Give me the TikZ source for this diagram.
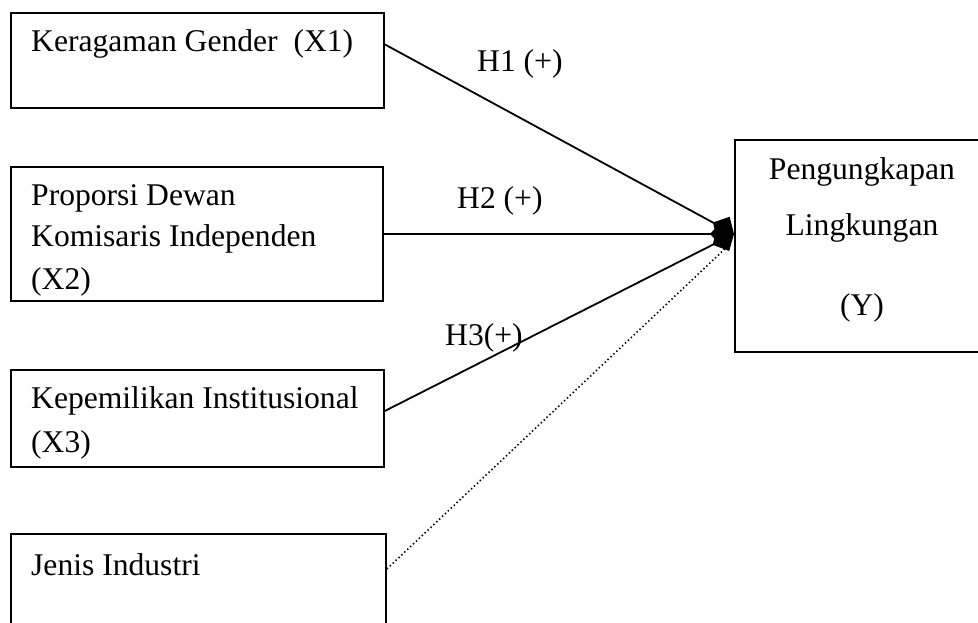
\documentclass[tikz,border=0pt]{standalone}
\usepackage{fontspec}
\setmainfont{Liberation Serif}
\usetikzlibrary{arrows.meta}
\begin{document}
\begin{tikzpicture}[x=1pt,y=-1pt,
  box/.style={draw,line width=1.9pt,inner sep=0pt,anchor=north west},
  lbl/.style={anchor=base west,inner sep=0pt,font=\fontsize{31.6}{42}\selectfont},
  clbl/.style={anchor=base,inner sep=0pt,font=\fontsize{31.6}{42}\selectfont},
  link/.style={line width=1.8pt,-{Diamond[length=24pt,width=26pt]}},
  dotlink/.style={line width=1.6pt,dash pattern=on 1.4pt off 2.6pt},
  ]
\useasboundingbox (0,0) rectangle (978,623);
\clip (0,0) rectangle (978,623);
% boxes
\node[box,minimum width=373pt,minimum height=95pt] (x1) at (10,12) {};
\node[box,minimum width=372pt,minimum height=134pt] (x2) at (10,166) {};
\node[box,minimum width=373pt,minimum height=97pt] (x3) at (10,369) {};
\node[box,minimum width=375pt,minimum height=110pt] (x4) at (10,533) {};
\node[box,minimum width=270pt,minimum height=212pt] (y) at (734,139) {};
% texts
\node[lbl] (t1) at (31,52) {Keragaman Gender\ \ (X1)};
\node[lbl] (t2a) at (31,205) {Proporsi Dewan};
\node[lbl] (t2b) at (31,247) {Komisaris Independen};
\node[lbl] (t2c) at (31,289) {(X2)};
\node[lbl] (t3a) at (31,408) {Kepemilikan Institusional};
\node[lbl] (t3b) at (31,452) {(X3)};
\node[lbl] (t4) at (31,575) {Jenis Industri};
\node[clbl] (ya) at (862,180) {Pengungkapan};
\node[clbl] (yb) at (862,235) {Lingkungan};
\node[clbl] (yc) at (862,315) {(Y)};
% hypothesis labels
\node[lbl] (h1) at (477,72) {H1 (+)};
\node[lbl] (h2) at (457,208) {H2 (+)};
\node[lbl] (h3) at (445,345) {H3(+)};
% connectors
\coordinate (tip) at ([yshift=12pt]y.west);
\coordinate (dend) at ([xshift=-5pt,yshift=1pt]y.west);
\draw[link] ([yshift=16pt]x1.east) -- (tip);
\draw[link] (x2.east) -- (tip);
\draw[link] ([yshift=7.5pt]x3.east) -- (tip);
\draw[dotlink] ([yshift=20pt]x4.east) -- (dend);
\end{tikzpicture}
\end{document}
